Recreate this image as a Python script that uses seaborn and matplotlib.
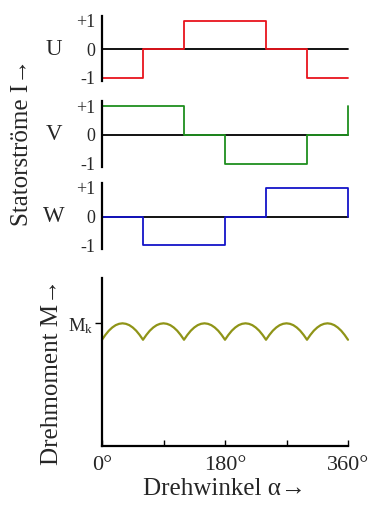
import matplotlib
matplotlib.use("Agg")
import matplotlib.pyplot as plt
import seaborn as sns
import pandas as pd

# ---- data ----
phase_names = ["U", "V", "W"]
phase_colors = ["#e8141c", "#1f8f1f", "#1414c8"]
u_angles = [0, 60, 120, 240, 300, 360]
u_values = [-1, 0, 1, 0, -1, -1]
v_angles = [0, 120, 180, 300, 360]
v_values = [1, 0, -1, 0, 1]
w_angles = [0, 60, 180, 240, 360]
w_values = [0, -1, 0, 1, 0]
current_ticks = [1, 0, -1]
current_ticklabels = ["+1", "0", "-1"]

torque_angles = list(range(0, 361, 5))
torque_values = [
    0.866, 0.906, 0.940, 0.966, 0.985, 0.996, 1.000, 0.996, 0.985, 0.966, 0.940, 0.906,
    0.866, 0.906, 0.940, 0.966, 0.985, 0.996, 1.000, 0.996, 0.985, 0.966, 0.940, 0.906,
    0.866, 0.906, 0.940, 0.966, 0.985, 0.996, 1.000, 0.996, 0.985, 0.966, 0.940, 0.906,
    0.866, 0.906, 0.940, 0.966, 0.985, 0.996, 1.000, 0.996, 0.985, 0.966, 0.940, 0.906,
    0.866, 0.906, 0.940, 0.966, 0.985, 0.996, 1.000, 0.996, 0.985, 0.966, 0.940, 0.906,
    0.866, 0.906, 0.940, 0.966, 0.985, 0.996, 1.000, 0.996, 0.985, 0.966, 0.940, 0.906,
    0.866,
]
torque_color = "#8f9417"
torque_tick = [1.0]
torque_ticklabel = [r"$\mathregular{M_k}$"]
angle_ticks = [0, 90, 180, 270, 360]
angle_ticklabels = ["0°", "", "180°", "", "360°"]

sns.set_style("white")
plt.rcParams["font.family"] = ["Liberation Serif", "DejaVu Serif"]
plt.rcParams["mathtext.fontset"] = "custom"
plt.rcParams["mathtext.rm"] = "Liberation Serif"
plt.rcParams["mathtext.it"] = "Liberation Serif:italic"

W, H = 369, 512
fig = plt.figure(figsize=(W / 100, H / 100), dpi=100)


def rect(top, bottom):
    return [102 / W, 1 - bottom / H, 246 / W, (bottom - top) / H]


phase_data = [(u_angles, u_values), (v_angles, v_values), (w_angles, w_values)]
tops = [(15.7, 81.4), (101.4, 167.1), (183.1, 248.8)]

for (ang, val), name, col, (t, b) in zip(phase_data, phase_names, phase_colors, tops):
    ax = fig.add_axes(rect(t, b))
    ax.axhline(0, color="black", lw=1.3, zorder=1, clip_on=False)
    df = pd.DataFrame({"angle": ang, "I": val})
    sns.lineplot(data=df, x="angle", y="I", ax=ax, color=col, lw=1.3,
                 drawstyle="steps-post", estimator=None, sort=False, zorder=3,
                 clip_on=False)
    ax.set_xlim(0, 360)
    ax.set_ylim(-1.12, 1.17)
    for s in ["top", "right", "bottom"]:
        ax.spines[s].set_visible(False)
    ax.spines["left"].set_color("black")
    ax.spines["left"].set_linewidth(1.6)
    ax.spines["left"].set_zorder(5)
    ax.set_xticks([])
    ax.set_yticks(current_ticks)
    ax.set_yticklabels(current_ticklabels, fontsize=13)
    ax.tick_params(axis="y", length=0, pad=5)
    ax.set_xlabel("")
    ax.set_ylabel("")
    ax.grid(False)
    ax.text(-0.195, 0, name, transform=ax.get_yaxis_transform(), fontsize=16.5,
            ha="center", va="center")

axT = fig.add_axes(rect(278.3, 446))
dft = pd.DataFrame({"angle": torque_angles, "M": torque_values})
sns.lineplot(data=dft, x="angle", y="M", ax=axT, color=torque_color, lw=1.6,
             estimator=None, sort=False, clip_on=False)
axT.set_xlim(0, 360)
axT.set_ylim(0, 1.367)
for s in ["top", "right"]:
    axT.spines[s].set_visible(False)
for s in ["left", "bottom"]:
    axT.spines[s].set_color("black")
    axT.spines[s].set_linewidth(1.6)
axT.set_xticks(angle_ticks)
axT.set_xticklabels(angle_ticklabels, fontsize=16)
axT.tick_params(axis="x", bottom=True, direction="in", length=4, width=1,
                color="black", pad=7)
axT.set_yticks(torque_tick)
axT.set_yticklabels(torque_ticklabel, fontsize=13.5)
axT.tick_params(axis="y", left=True, direction="out", length=5, width=1,
                color="black", pad=1)
axT.set_xlabel("")
axT.set_ylabel("")
axT.grid(False)

fig.text(22 / W, 1 - 142 / H, "Statorströme I→", rotation=90, fontsize=18,
         ha="center", va="center")
fig.text(52 / W, 1 - 372 / H, "Drehmoment M→", rotation=90, fontsize=18,
         ha="center", va="center")
fig.text(224 / W, 1 - 495 / H, "Drehwinkel α→", fontsize=18,
         ha="center", va="baseline")

fig.savefig("out.png", dpi=100)
